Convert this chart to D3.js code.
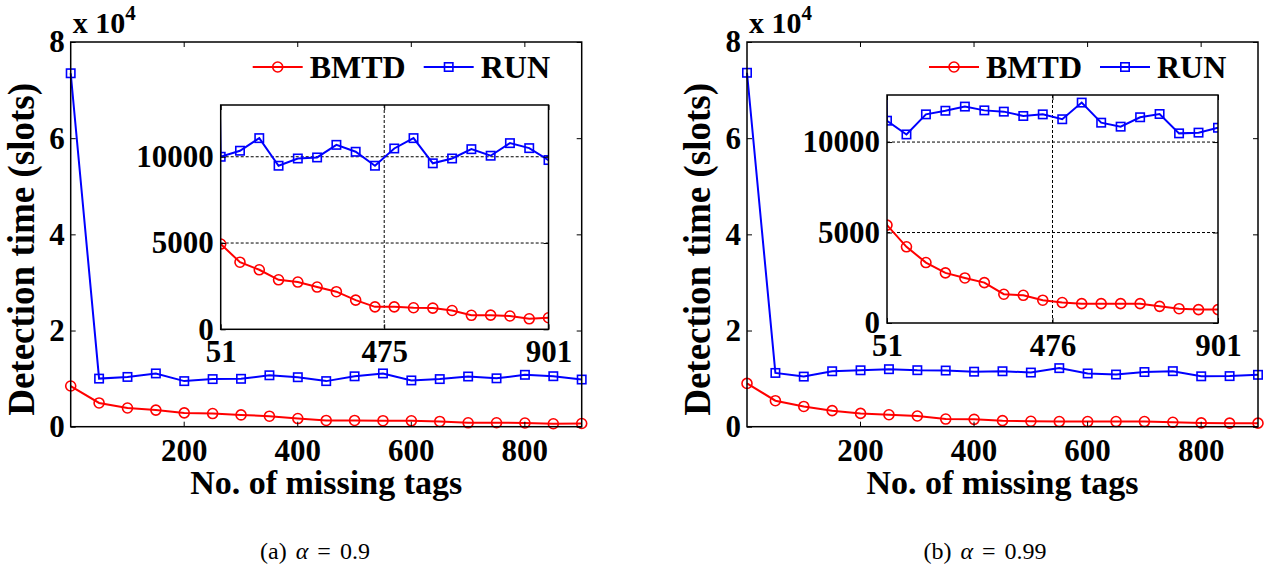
<!DOCTYPE html>
<html>
<head>
<meta charset="utf-8">
<script src="https://cdn.jsdelivr.net/npm/d3@7"></script>
<style>
  body { margin: 0; background: #fff; }
  svg text { font-family: "Liberation Serif", "Times New Roman", serif; fill: #000; }
</style>
</head>
<body>
<svg id="chart" width="1271" height="574"></svg>
<script>
/* Number of missing tags on the x axis */
const tagCounts = [1, 51, 101, 151, 201, 251, 301, 351, 401, 451, 501, 551, 601, 651, 701, 751, 801, 851, 901];

/* Detection time (slots), alpha = 0.9 */
const bmtdA = [8460, 4940, 3890, 3450, 2870, 2740, 2450, 2180, 1690, 1300, 1300, 1250, 1230, 1090, 810, 820, 770, 610, 670];
const runA  = [73500, 10000, 10350, 11080, 9480, 9900, 9960, 10690, 10290, 9480, 10480, 11080, 9620, 9900, 10440, 10060, 10790, 10500, 9810];

/* Detection time (slots), alpha = 0.99 */
const bmtdB = [9000, 5410, 4210, 3340, 2770, 2490, 2230, 1590, 1530, 1260, 1130, 1070, 1070, 1070, 1070, 920, 790, 740, 740];
const runB  = [73600, 11180, 10420, 11530, 11730, 11960, 11750, 11680, 11440, 11530, 11260, 12180, 11070, 10850, 11370, 11550, 10480, 10520, 10790];

/* Tick values */
const mainTicksX = [200, 400, 600, 800];
const mainTicksY = [0, 20000, 40000, 60000, 80000];
const insetTicksY = [0, 5000, 10000];
const insetTicksXA = [51, 475, 901];
const insetTicksXB = [51, 476, 901];

const seriesNames = ['BMTD', 'RUN'];
const captionValues = ['0.9', '0.99'];

const FONT_TICK = 31;
const RED = '#ff0000', BLUE = '#0000ff';
const MK_R = 5, MK_S = 8.4;

const svg = d3.select('#chart');

const panels = [
  { main: { x0: 70.7, x1: 581.7, y0: 42, y1: 426.7 },
    inset: { x0: 220.7, x1: 548.5, y0: 105, y1: 329.3, ymax: 13000 },
    bmtd: bmtdA, run: runA, insetTicksX: insetTicksXA, caption: captionValues[0], capX: 315 },
  { main: { x0: 747, x1: 1258, y0: 42, y1: 426.7 },
    inset: { x0: 887, x1: 1218, y0: 95, y1: 323, ymax: 12600 },
    bmtd: bmtdB, run: runB, insetTicksX: insetTicksXB, caption: captionValues[1], capX: 985 }
];

function styleAxis(g) {
  g.attr('font-family', null).attr('font-size', null);
  g.select('.domain').remove();
  g.selectAll('.tick line').attr('stroke', '#000').attr('stroke-width', 1);
  g.selectAll('text')
    .style('font-size', FONT_TICK + 'px')
    .style('font-weight', 'bold');
}

/* Box axes: ticks pointing inward on all four sides, labels on left and bottom */
function boxAxes(g, x, y, xt, yt, yfmt, padX, padY) {
  const [bx0, bx1] = x.range();
  const [by1, by0] = y.range();
  g.append('g').attr('transform', 'translate(0,' + by1 + ')')
    .call(d3.axisBottom(x).tickValues(xt).tickSizeInner(-5).tickSizeOuter(0).tickPadding(padX).tickFormat(d3.format('d')))
    .call(styleAxis);
  g.append('g').attr('transform', 'translate(0,' + by0 + ')')
    .call(d3.axisTop(x).tickValues(xt).tickSizeInner(-5).tickSizeOuter(0).tickFormat(''))
    .call(styleAxis);
  g.append('g').attr('transform', 'translate(' + bx0 + ',0)')
    .call(d3.axisLeft(y).tickValues(yt).tickSizeInner(-5).tickSizeOuter(0).tickPadding(padY).tickFormat(yfmt))
    .call(styleAxis);
  g.append('g').attr('transform', 'translate(' + bx1 + ',0)')
    .call(d3.axisRight(y).tickValues(yt).tickSizeInner(-5).tickSizeOuter(0).tickFormat(''))
    .call(styleAxis);
  g.append('rect')
    .attr('x', bx0).attr('y', by0)
    .attr('width', bx1 - bx0).attr('height', by1 - by0)
    .attr('fill', 'none').attr('stroke', '#000').attr('stroke-width', 1.5);
}

/* One red circle series and one blue square series */
function drawSeries(g, x, y, bmtd, run, clipId) {
  const line = d3.line().x(d => x(d[0])).y(d => y(d[1]));
  const redPts = d3.zip(tagCounts, bmtd);
  const bluePts = d3.zip(tagCounts, run);
  const s = g.append('g');
  if (clipId) s.attr('clip-path', 'url(#' + clipId + ')');

  s.append('path').datum(redPts).attr('d', line)
    .attr('fill', 'none').attr('stroke', RED).attr('stroke-width', 2);
  s.append('path').datum(bluePts).attr('d', line)
    .attr('fill', 'none').attr('stroke', BLUE).attr('stroke-width', 2);

  s.selectAll('.mk-c').data(redPts).enter().append('circle')
    .attr('class', 'mk-c')
    .attr('cx', d => x(d[0])).attr('cy', d => y(d[1])).attr('r', MK_R)
    .attr('fill', 'none').attr('stroke', RED).attr('stroke-width', 1.6);
  s.selectAll('.mk-s').data(bluePts).enter().append('rect')
    .attr('class', 'mk-s')
    .attr('x', d => x(d[0]) - MK_S / 2).attr('y', d => y(d[1]) - MK_S / 2)
    .attr('width', MK_S).attr('height', MK_S)
    .attr('fill', 'none').attr('stroke', BLUE).attr('stroke-width', 1.6);
}

panels.forEach(function (p, i) {
  const g = svg.append('g').attr('class', 'panel');
  const m = p.main, n = p.inset;

  /* Main axes */
  const x = d3.scaleLinear().domain([1, 901]).range([m.x0, m.x1]);
  const y = d3.scaleLinear().domain([0, 80000]).range([m.y1, m.y0]);

  drawSeries(g, x, y, p.bmtd, p.run, null);
  boxAxes(g, x, y, mainTicksX, mainTicksY, d => d / 10000, 12, 6);

  /* Exponent above the y axis */
  const expo = g.append('text')
    .attr('x', m.x0 + 2).attr('y', 33)
    .style('font-size', '30px').style('font-weight', 'bold');
  expo.append('tspan').text('x 10');
  expo.append('tspan').attr('dy', -13).style('font-size', '21px').text('4');

  /* Axis titles */
  g.append('text')
    .attr('transform', 'translate(' + (m.x0 - 37) + ',' + ((m.y0 + m.y1) / 2 + 15) + ') rotate(-90)')
    .attr('text-anchor', 'middle')
    .style('font-size', '37px').style('font-weight', 'bold')
    .text('Detection time (slots)');
  g.append('text')
    .attr('x', (m.x0 + m.x1) / 2).attr('y', 494)
    .attr('text-anchor', 'middle')
    .style('font-size', '34px').style('font-weight', 'bold')
    .text('No. of missing tags');

  /* Legend */
  const lg = g.append('g').attr('transform', 'translate(' + (m.x1 - 329) + ',67)');
  seriesNames.forEach(function (name, k) {
    const ox = k * 171;
    const col = k === 0 ? RED : BLUE;
    lg.append('line').attr('x1', ox).attr('x2', ox + 50).attr('y1', 0).attr('y2', 0)
      .attr('stroke', col).attr('stroke-width', 2);
    if (k === 0) {
      lg.append('circle').attr('cx', ox + 25).attr('cy', 0).attr('r', MK_R)
        .attr('fill', 'none').attr('stroke', col).attr('stroke-width', 1.6);
    } else {
      lg.append('rect').attr('x', ox + 25 - MK_S / 2).attr('y', -MK_S / 2).attr('width', MK_S).attr('height', MK_S)
        .attr('fill', 'none').attr('stroke', col).attr('stroke-width', 1.6);
    }
    lg.append('text').attr('x', ox + 57).attr('y', 10.5)
      .style('font-size', '32px').style('font-weight', 'bold')
      .text(name);
  });

  /* Inset: zoomed view of 51..901 */
  const xi = d3.scaleLinear().domain([51, 901]).range([n.x0, n.x1]);
  const yi = d3.scaleLinear().domain([0, n.ymax]).range([n.y1, n.y0]);
  const clipId = 'inset-clip-' + i;
  g.append('clipPath').attr('id', clipId).append('rect')
    .attr('x', n.x0).attr('y', n.y0).attr('width', n.x1 - n.x0).attr('height', n.y1 - n.y0);

  const ig = g.append('g').attr('class', 'inset');
  ig.append('rect')
    .attr('x', n.x0).attr('y', n.y0).attr('width', n.x1 - n.x0).attr('height', n.y1 - n.y0)
    .attr('fill', '#fff');

  /* Dotted grid */
  ig.selectAll('.gy').data(insetTicksY.slice(1)).enter().append('line')
    .attr('x1', n.x0).attr('x2', n.x1)
    .attr('y1', d => yi(d)).attr('y2', d => yi(d))
    .attr('stroke', '#000').attr('stroke-width', 1).attr('stroke-dasharray', '3,2');
  ig.selectAll('.gx').data(p.insetTicksX.slice(1, -1)).enter().append('line')
    .attr('x1', d => xi(d)).attr('x2', d => xi(d))
    .attr('y1', n.y0).attr('y2', n.y1)
    .attr('stroke', '#000').attr('stroke-width', 1).attr('stroke-dasharray', '3,2');

  drawSeries(ig, xi, yi, p.bmtd, p.run, clipId);
  boxAxes(ig, xi, yi, p.insetTicksX, insetTicksY, d3.format('d'), 11, 7);

  /* Caption */
  const cap = g.append('text')
    .attr('x', p.capX).attr('y', 559)
    .attr('text-anchor', 'middle')
    .style('font-size', '24px')
    .style('word-spacing', '3px');
  cap.append('tspan').text('(' + 'ab'[i] + ') ');
  cap.append('tspan').style('font-style', 'italic').text('α');
  cap.append('tspan').text(' = ' + p.caption);
});
</script>
</body>
</html>
